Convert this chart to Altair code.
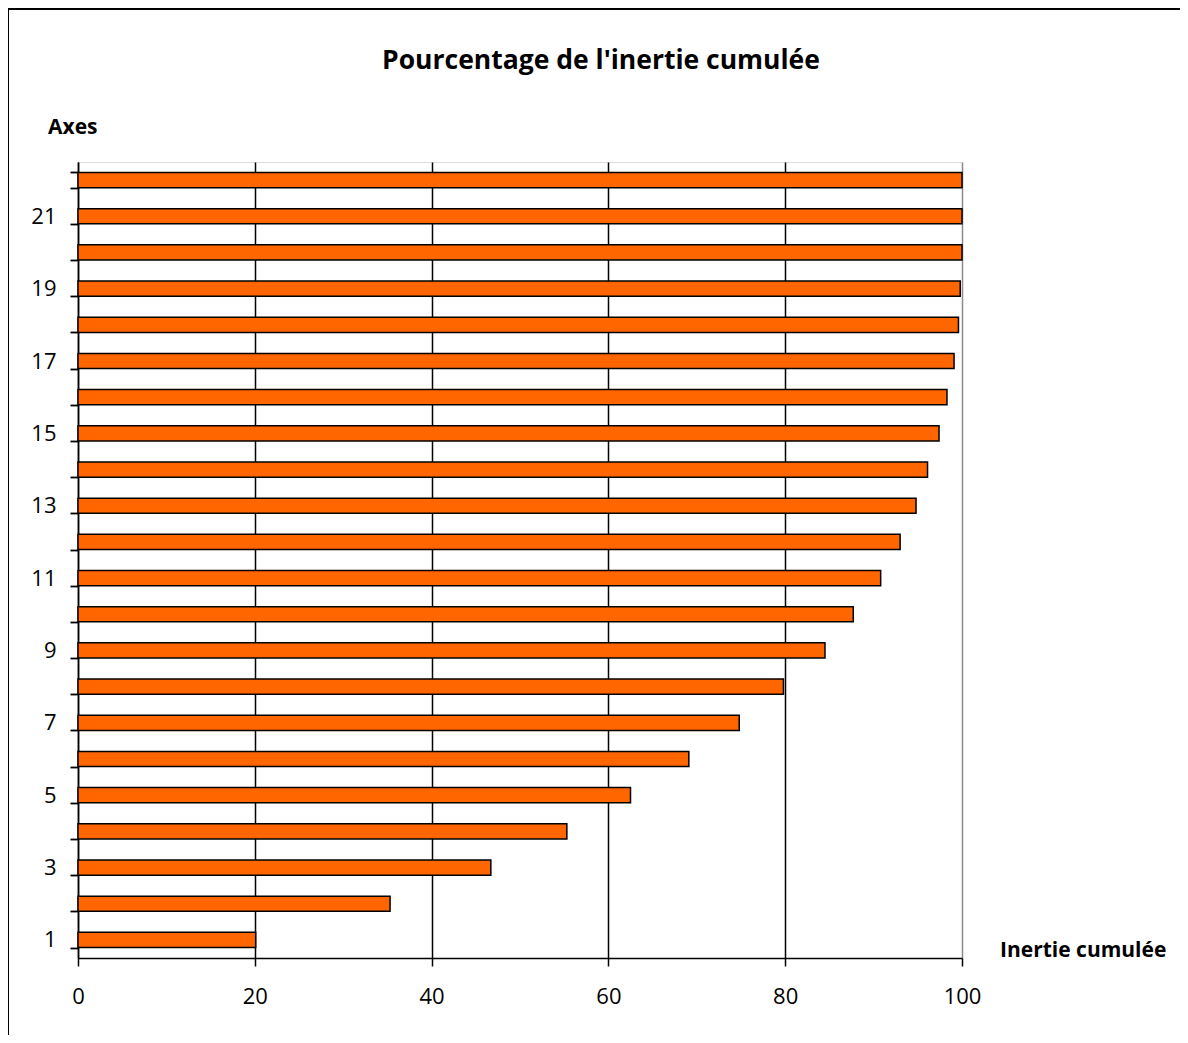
import altair as alt
import pandas as pd

axes = list(range(1, 23))
inertie = [20.1, 35.3, 46.7, 55.3, 62.5, 69.1, 74.8, 79.8, 84.5, 87.7, 90.8,
           93.0, 94.8, 96.1, 97.4, 98.3, 99.1, 99.6, 99.8, 100.0, 100.0, 100.0]
x_ticks = [0, 20, 40, 60, 80, 100]

title_text = "Pourcentage de l'inertie cumulée"
y_title = "Axes"
x_title = "Inertie cumulée"

FONT = "Open Sans"

df = pd.DataFrame({"axe": axes, "inertie": inertie})

W, H = 884, 796

bars = alt.Chart(df).mark_bar(
    color="#FF6600", stroke="black", strokeWidth=1.5
).encode(
    x=alt.X("inertie:Q",
            scale=alt.Scale(domain=[0, 100], nice=False, zero=True),
            axis=alt.Axis(values=x_ticks, title=None, grid=True,
                          gridColor={"condition": {"test": "datum.value === 100", "value": "#8c8c8c"},
                                     "value": "black"},
                          gridWidth=1.5, labelFlush=False,
                          domainColor="black", domainWidth=1.5,
                          tickColor="black", tickSize=8, tickWidth=1.5,
                          labelFontSize=22, labelFont=FONT, labelColor="black",
                          labelPadding=20)),
    y=alt.Y("axe:O",
            sort=list(reversed(axes)),
            scale=alt.Scale(paddingInner=0.58, paddingOuter=0.29),
            axis=alt.Axis(title=None, tickBand="extent",
                          labelExpr="datum.value % 2 == 1 ? datum.label : ''",
                          domainColor="black", domainWidth=1.5,
                          tickColor="black", tickSize=8, tickWidth=1.8,
                          labelFontSize=22, labelFont=FONT, labelColor="black",
                          labelPadding=14, grid=False)),
)

def label(text, x, y, size, align="left"):
    return alt.Chart(pd.DataFrame({"t": [text]})).mark_text(
        font=FONT, fontSize=size, fontWeight="bold", align=align,
        baseline="middle", color="black"
    ).encode(x=alt.value(x), y=alt.value(y), text="t:N")

frame_left = alt.Chart(pd.DataFrame({"a": [0]})).mark_rule(
    color="black", strokeWidth=2
).encode(x=alt.value(-70), y=alt.value(-153), y2=alt.value(900))
frame_top = alt.Chart(pd.DataFrame({"a": [0]})).mark_rule(
    color="black", strokeWidth=2
).encode(x=alt.value(-70), x2=alt.value(1200), y=alt.value(-153))

chart = alt.layer(
    bars,
    label(title_text, 523, -101, 26.5, "center"),
    label(y_title, -30, -34, 21),
    label(x_title, 922, 789, 21),
    frame_left,
    frame_top,
).properties(
    width=W, height=H,
    autosize=alt.AutoSizeParams(type="none"),
    padding={"left": 70, "top": 154, "right": 218, "bottom": 77},
).configure_view(stroke="#8c8c8c", strokeWidth=1.5).configure(background="white")

chart.save("out.html", embed_options={"renderer": "svg", "actions": False})
